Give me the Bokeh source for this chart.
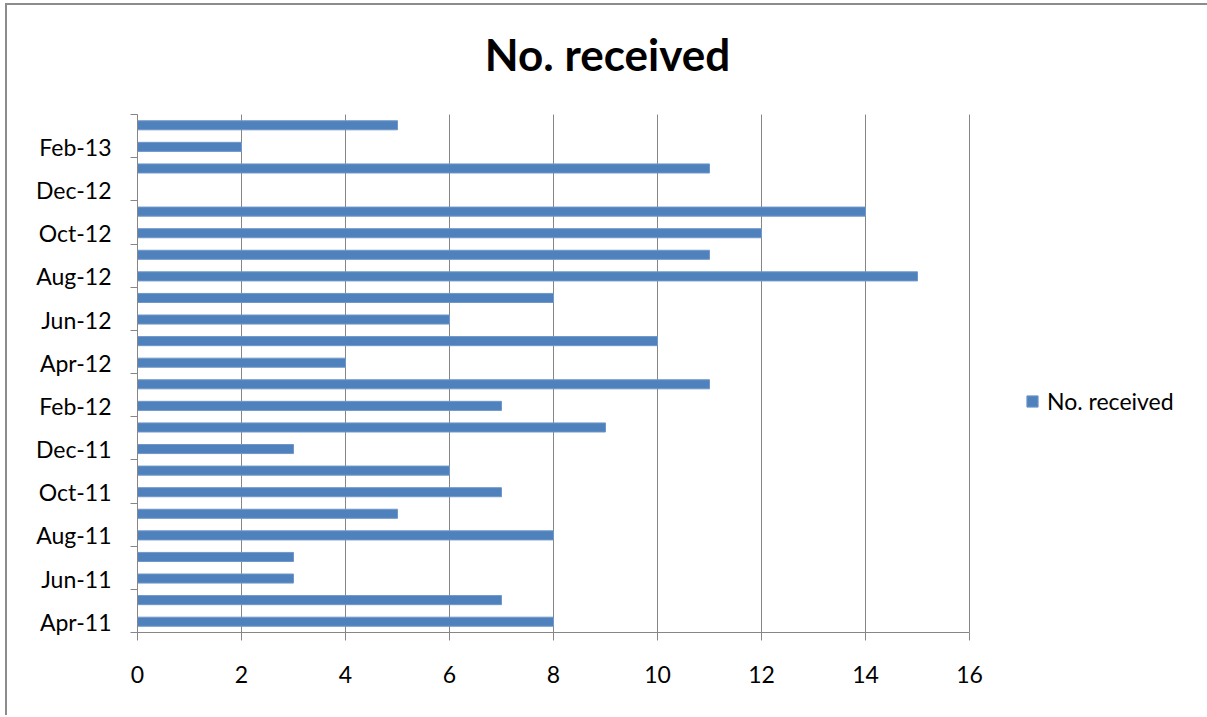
from bokeh.plotting import figure
from bokeh.models import (FixedTicker, Range1d, ColumnDataSource, Label,
                          Legend, LegendItem)
from bokeh.embed import file_html
from bokeh.resources import INLINE

months = ["Apr-11", "May-11", "Jun-11", "Jul-11", "Aug-11", "Sep-11", "Oct-11", "Nov-11",
          "Dec-11", "Jan-12", "Feb-12", "Mar-12", "Apr-12", "May-12", "Jun-12", "Jul-12",
          "Aug-12", "Sep-12", "Oct-12", "Nov-12", "Dec-12", "Jan-13", "Feb-13", "Mar-13"]
received = [8, 7, 3, 3, 8, 5, 7, 6, 3, 9, 7, 11, 4, 10, 6, 8, 15, 11, 12, 14, 0, 11, 2, 5]
x_ticks = [0, 2, 4, 6, 8, 10, 12, 14, 16]
x_max = 16
series_name = "No. received"
title_text = "No. received"

FONT = "Lato"
BLUE = "#4F81BD"
GRID = "#868686"

n = len(months)
pos = [i + 0.5 for i in range(n)]
src = ColumnDataSource(dict(y=pos, v=received, m=months))

# ---- layout (page pixels) ----
W, H = 1215, 712                 # canvas size (right edge of chart box lies past the window)
OFF_X, OFF_Y = 7, 5              # canvas origin on page
plot_l, plot_r, plot_t, plot_b = 137, 969, 114, 632   # Excel plot area on page
px_x = (plot_r - plot_l) / x_max
px_y = (plot_b - plot_t) / n
left_border = plot_l - OFF_X
bottom_border = H - (plot_b - OFF_Y)
x_end = (W - left_border) / px_x
y_end = (plot_b - OFF_Y) / px_y

p = figure(width=W, height=H, output_backend="svg", toolbar_location=None,
           x_range=Range1d(0, x_end), y_range=Range1d(0, y_end),
           min_border_left=left_border, min_border_right=0, min_border_top=0,
           min_border_bottom=bottom_border)
p.styles = {"border-left": "2px solid #8c8c8c", "border-top": "2px solid #8c8c8c",
            "margin-left": "5px", "margin-top": "3px"}
p.title = None
p.outline_line_color = None
p.background_fill_color = "white"
p.border_fill_color = "white"
p.xgrid.grid_line_color = None
p.ygrid.grid_line_color = None

# vertical gridlines, limited to the plot area
p.segment(x0=x_ticks, y0=[0] * len(x_ticks), x1=x_ticks, y1=[n] * len(x_ticks),
          line_color=GRID, line_width=1)

r = p.hbar(y="y", right="v", left=0, height=0.42, source=src,
           fill_color=BLUE, line_color="#6F97C9", line_width=1)

# x axis
xa = p.xaxis[0]
xa.bounds = (0, x_max)
xa.ticker = FixedTicker(ticks=x_ticks, minor_ticks=[])
xa.axis_line_color = GRID
xa.major_tick_line_color = GRID
xa.major_tick_out = 8
xa.major_tick_in = 0
xa.minor_tick_line_color = None
xa.major_label_text_font = FONT
xa.major_label_text_font_size = "23px"
xa.major_label_text_color = "black"
xa.major_label_standoff = 25

# y axis: labels at every other month centre, tick marks at every second boundary
ya = p.yaxis[0]
ya.bounds = (0, n)
label_pos = [pos[i] for i in range(0, n, 2)]
ya.ticker = FixedTicker(ticks=label_pos, minor_ticks=[float(i) for i in range(0, n + 1, 2)])
ya.major_label_overrides = {pos[i]: months[i] for i in range(0, n, 2)}
ya.axis_line_color = GRID
ya.major_tick_line_color = None
ya.major_tick_out = 0
ya.major_tick_in = 0
ya.minor_tick_line_color = GRID
ya.minor_tick_out = 7
ya.minor_tick_in = 0
ya.major_label_text_font = FONT
ya.major_label_text_font_size = "23px"
ya.major_label_text_color = "black"
ya.major_label_standoff = 19

# title (inside the extended frame)
title_cx, title_cy = 607, 53
p.add_layout(Label(x=(title_cx - plot_l) / px_x, y=n + (plot_t - title_cy) / px_y,
                   text=title_text, text_font=FONT, text_font_style="bold",
                   text_font_size="44px", text_align="center", text_baseline="middle",
                   text_color="black"))

legend = Legend(items=[LegendItem(label=series_name, renderers=[r])],
                location=(1025 - plot_l, plot_b - 415), orientation="vertical",
                border_line_color=None, background_fill_alpha=0,
                padding=0, margin=0, glyph_width=14, glyph_height=14,
                label_standoff=8, label_text_font=FONT, label_text_font_size="23px",
                label_text_color="black")
p.add_layout(legend, "center")

open("out.html", "w").write(file_html(p, INLINE))
